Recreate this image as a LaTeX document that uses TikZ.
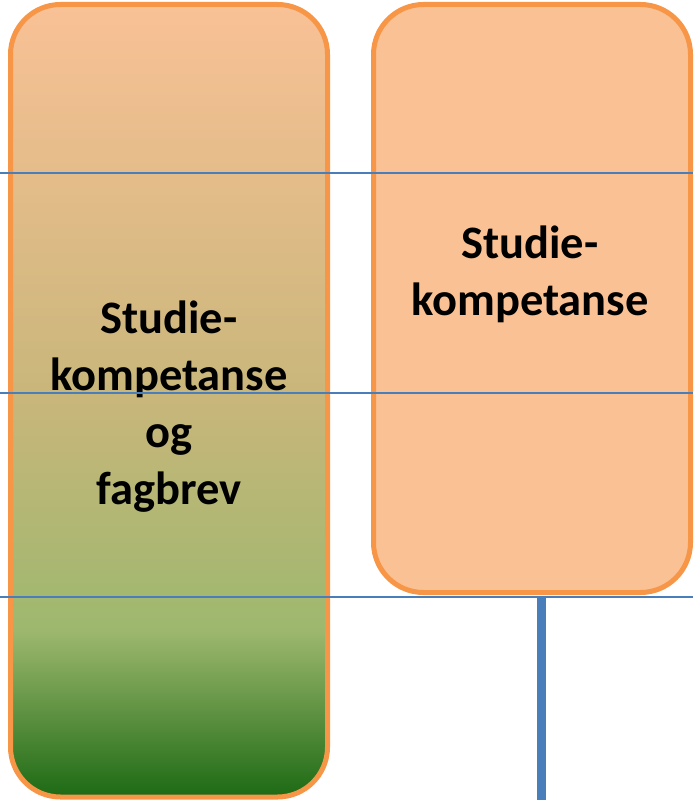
\documentclass[tikz,border=0pt]{standalone}
\usepackage{fontspec}
\setmainfont{Carlito}
\usepackage{tikz}

\definecolor{fersken}{HTML}{F9C196}
\definecolor{oker}{HTML}{C8B67A}
\definecolor{lysgronn}{HTML}{9DB86E}
\definecolor{morkgronn}{HTML}{1D6A14}
\definecolor{kant}{HTML}{F79646}
\definecolor{boksfyll}{HTML}{FAC194}
\definecolor{blalinje}{HTML}{4A7EBB}

\pgfdeclareverticalshading{fagbrevgrad}{100bp}{color(0bp)=(morkgronn); color(25bp)=(morkgronn); color(35.5bp)=(lysgronn); color(50bp)=(oker); color(75bp)=(fersken); color(100bp)=(fersken)}

\begin{document}
\begin{tikzpicture}[x=1pt,y=-1pt,
  boks/.style={draw=kant,line width=5pt,rounded corners=50pt,inner sep=0pt},
  tekst/.style={font=\fontsize{46.5}{57}\selectfont\bfseries,align=center,inner sep=0pt},
  linje/.style={blalinje,line width=1.8pt}]
% Draw frame
\useasboundingbox (0,0) rectangle (693,800);
% Draw boxes
\node[boks,shade,shading=fagbrevgrad,minimum width=317pt,minimum height=792.5pt] (fagboks) at (169,400.75) {};
\node[boks,fill=boksfyll,minimum width=317pt,minimum height=588pt] (studboks) at (532,298.5) {};
% Draw texts
\node[tekst] (fagtekst) at (169,406.5) {Studie-\\kompetanse\\og\\fagbrev};
\node[tekst] (studtekst) at (530,274.25) {Studie-\\kompetanse};
% Draw horizontal lines
\coordinate (a1) at (0,173);   \coordinate (b1) at (693,173);
\coordinate (a2) at (0,393);   \coordinate (b2) at (693,393);
\coordinate (a3) at (0,597);   \coordinate (b3) at (693,597);
\draw[linje] (a1)--(b1);
\draw[linje] (a2)--(b2);
\draw[linje] (a3)--(b3);
% Draw vertical line
\coordinate (v1) at (541.5,597);
\coordinate (v2) at (541.5,800);
\draw[blalinje,line width=9pt] (v1)--(v2);
\end{tikzpicture}
\end{document}
